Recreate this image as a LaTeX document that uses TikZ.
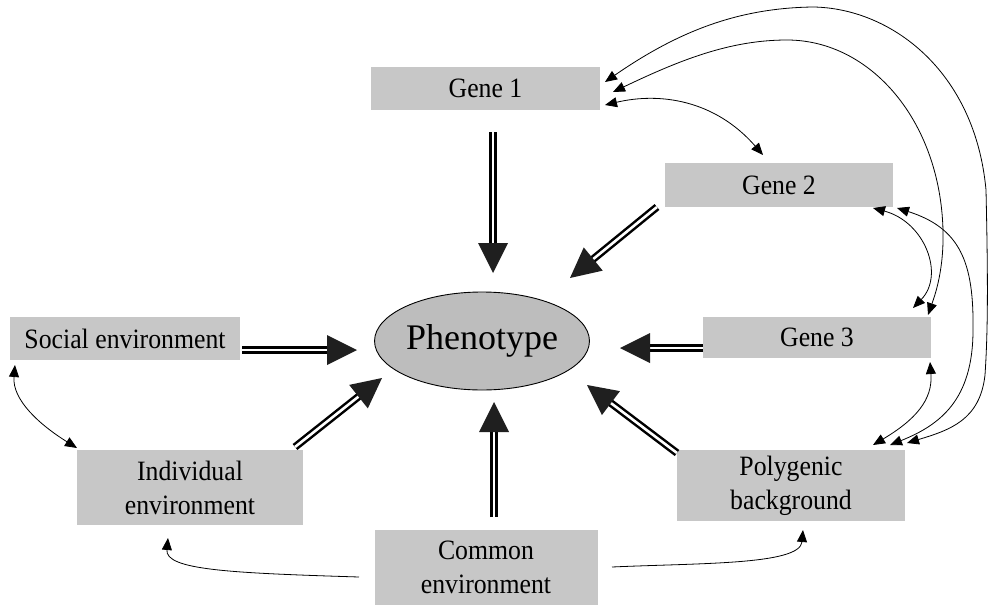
\documentclass[tikz,border=0pt]{standalone}
\usepackage{fontspec}
\setmainfont{Liberation Serif}
\newfontfamily\boxfont[FakeStretch=0.92]{Liberation Serif}
\usetikzlibrary{arrows.meta,calc,shapes.geometric}
\definecolor{boxgray}{gray}{0.78}
\definecolor{ellgray}{gray}{0.74}
\tikzset{
  box/.style={rectangle, fill=boxgray, inner sep=0pt, align=center,
    font=\boxfont\fontsize{28}{34}\selectfont},
  phenostyle/.style={ellipse, draw=black, line width=0.9pt, fill=ellgray,
    inner sep=0pt, font=\fontsize{36}{40}\selectfont},
  link/.style={draw=black, line width=0.8pt, -{Triangle[length=12pt,width=10pt]}},
  blink/.style={draw=black, line width=0.8pt,
    {Triangle[length=12pt,width=10pt]}-{Triangle[length=12pt,width=10pt]}},
  shaft/.style={draw=black, line width=2.5pt, double=white, double distance=2.6pt},
  headfill/.style={fill=black!88},
}
\newcommand\fatarrow[2]{%
  \draw[shaft, shorten >=26pt] (#1) -- (#2);
  \coordinate (hb) at ($(#2)!30pt!(#1)$);
  \fill[headfill] (#2) -- ($(hb)!15pt!90:(#2)$) -- ($(hb)!15pt!-90:(#2)$) -- cycle;
}
\begin{document}
\begin{tikzpicture}[x=1pt,y=-1pt]
\useasboundingbox (0,0) rectangle (988,605);

% boxes
\node[box, minimum width=229pt, minimum height=43pt] (gene1) at (485.5,88.5) {Gene 1};
\node[box, minimum width=228pt, minimum height=44pt] (gene2) at (779,185) {Gene 2};
\node[box, minimum width=228pt, minimum height=41pt] (gene3) at (817,337.5) {Gene 3};
\node[box, minimum width=230pt, minimum height=43pt] (social) at (125,338.5) {Social environment};
\node[box, minimum width=226pt, minimum height=75pt] (indiv) at (190,487.5) {Individual\\environment};
\node[box, minimum width=228pt, minimum height=71pt] (poly) at (791,485.5) {Polygenic\\background};
\node[box, minimum width=223pt, minimum height=75pt] (common) at (486,567.5) {Common\\environment};
\node[phenostyle, minimum width=210pt, minimum height=98pt] (pheno) at (482,341) {Phenotype};

% heavy arrow ends
\coordinate (g1s) at (493,132);  \coordinate (g1t) at (493,273);
\coordinate (g2s) at (657,207);  \coordinate (g2t) at (570,278);
\coordinate (g3s) at (703,348);  \coordinate (g3t) at (620,348);
\coordinate (pbs) at (677,453);  \coordinate (pbt) at (587,385);
\coordinate (ces) at (494,517);  \coordinate (cet) at (494,402);
\coordinate (ies) at (295,447);  \coordinate (iet) at (382,378);
\coordinate (ses) at (242,350);  \coordinate (set) at (357,350);

\fatarrow{g1s}{g1t}
\fatarrow{g2s}{g2t}
\fatarrow{g3s}{g3t}
\fatarrow{pbs}{pbt}
\fatarrow{ces}{cet}
\fatarrow{ies}{iet}
\fatarrow{ses}{set}

% ports for thin connectors
\coordinate (g1a) at (605,82);
\coordinate (g1b) at (613,92);
\coordinate (g1c) at (605,105);
\coordinate (g2a) at (763,155);
\coordinate (g2b) at (873,208);
\coordinate (g2c) at (897,208);
\coordinate (g3a) at (913,308);
\coordinate (g3b) at (928,315);
\coordinate (g3c) at (930,362);
\coordinate (pba) at (873,445);
\coordinate (pbb) at (890,445);
\coordinate (pbc) at (907,443);
\coordinate (pbd) at (803,530);
\coordinate (soa) at (15,365);
\coordinate (ina) at (77,448);
\coordinate (inb) at (168,538);
\coordinate (cea) at (359,577);
\coordinate (ceb) at (612,567);

% thin connectors
\draw[blink] (g1c) .. controls (660,92) and (715,100) .. (g2a);
\draw[blink] (g1a) .. controls (680,30) and (740,8) .. (813,7)
  .. controls (890,8) and (975,70) .. (986,190)
  .. controls (988,280) and (988,330) .. (985,375)
  .. controls (980,420) and (950,430) .. (pbc);
\draw[blink] (g1b) .. controls (680,60) and (730,40) .. (787,40)
  .. controls (870,40) and (940,120) .. (943,230)
  .. controls (944,270) and (935,295) .. (g3b);
\draw[blink] (g2b) .. controls (925,222) and (945,275) .. (g3a);
\draw[blink] (g2c) .. controls (960,228) and (974,262) .. (973,330)
  .. controls (973,400) and (940,425) .. (pbb);
\draw[blink] (g3c) .. controls (933,400) and (915,420) .. (pba);
\draw[blink] (soa) .. controls (12,400) and (40,425) .. (ina);
\draw[link] (cea) .. controls (230,573) and (165,570) .. (inb);
\draw[link] (ceb) .. controls (700,563) and (800,565) .. (pbd);
\end{tikzpicture}
\end{document}
